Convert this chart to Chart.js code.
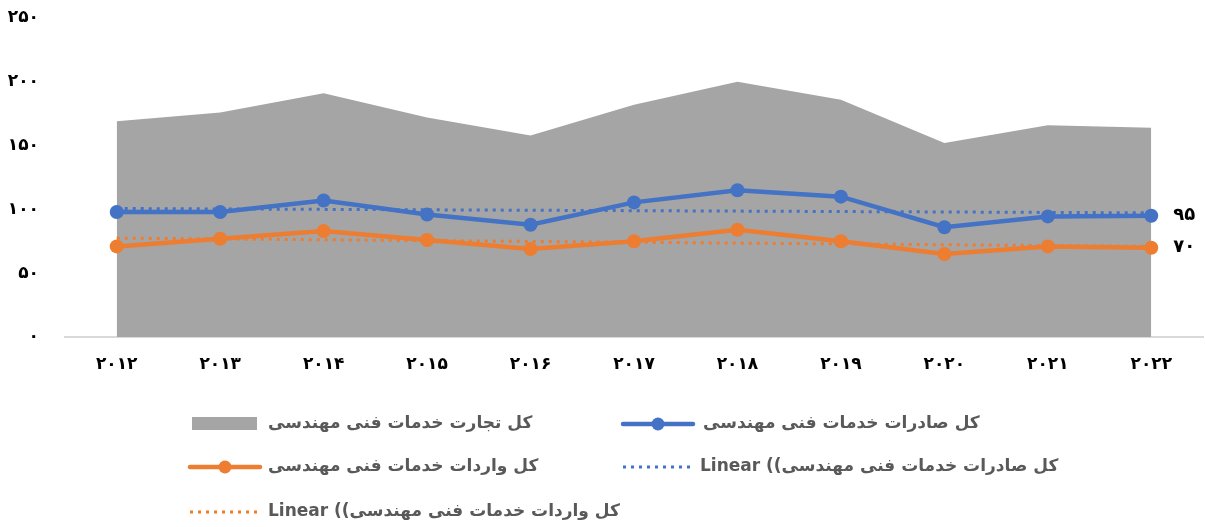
<!DOCTYPE html>
<html>
<head>
<meta charset="utf-8">
<script src="https://cdn.jsdelivr.net/npm/chart.js@4/dist/chart.umd.min.js"></script>
<style>
  html, body { margin: 0; padding: 0; background: #fff; overflow: hidden; }
  #wrap { position: relative; width: 1210px; height: 527px; }
</style>
</head>
<body>
<div id="wrap"><canvas id="chart" width="1210" height="527"></canvas></div>
<script>
const years = [2012, 2013, 2014, 2015, 2016, 2017, 2018, 2019, 2020, 2021, 2022];
const totalTrade = [169, 176, 191, 172, 158, 182, 200, 186, 152, 166, 164];
const exportsVals = [98, 98, 107, 96, 88, 105.5, 115, 110, 86, 94.5, 95];
const importsVals = [71, 77, 83, 76, 69, 75, 84, 75, 65, 71, 70];
// trendline end points
const exportsTrend = [100.7, null, null, null, null, null, null, null, null, null, 97.3];
const importsTrend = [77.5, null, null, null, null, null, null, null, null, null, 71];
const yTicks = [0, 50, 100, 150, 200, 250];

const names = {
    total: "کل تجارت خدمات فنی مهندسی",
    exp: "کل صادرات خدمات فنی مهندسی",
    imp: "کل واردات خدمات فنی مهندسی"
};

const gray = "#a5a5a5";
const blue = "#4472c4";
const orange = "#ed7d31";

function toFa(v) {
    return String(v).replace(/\d/g, d => "۰۱۲۳۴۵۶۷۸۹"[d]);
}

const FONT = "'DejaVu Sans', sans-serif";

const endLabels = {
    id: "endLabels",
    afterDatasetsDraw(chart) {
        const ctx = chart.ctx;
        ctx.save();
        ctx.font = "bold 18px " + FONT;
        ctx.fillStyle = "#000";
        ctx.textBaseline = "middle";
        ctx.textAlign = "left";
        [1, 2].forEach(i => {
            const meta = chart.getDatasetMeta(i);
            const pt = meta.data[meta.data.length - 1];
            const v = chart.data.datasets[i].data[meta.data.length - 1];
            ctx.fillText(toFa(v), pt.x + 22, pt.y);
        });
        ctx.restore();
    }
};

const legendPlugin = {
    id: "customLegend",
    afterDraw(chart) {
        const ctx = chart.ctx;
        ctx.save();
        ctx.font = "bold 17px " + FONT;
        ctx.fillStyle = "#595959";
        ctx.textBaseline = "middle";

        function lineMarker(x, y, color) {
            ctx.strokeStyle = color;
            ctx.lineWidth = 4.5;
            ctx.lineCap = "round";
            ctx.beginPath();
            ctx.moveTo(x, y);
            ctx.lineTo(x + 70, y);
            ctx.stroke();
            ctx.fillStyle = color;
            ctx.beginPath();
            ctx.arc(x + 35, y, 6.5, 0, Math.PI * 2);
            ctx.fill();
        }
        function dotMarker(x, y, color) {
            ctx.strokeStyle = color;
            ctx.lineWidth = 3;
            ctx.lineCap = "butt";
            ctx.setLineDash([3, 5]);
            ctx.beginPath();
            ctx.moveTo(x, y);
            ctx.lineTo(x + 70, y);
            ctx.stroke();
            ctx.setLineDash([]);
        }
        function rtlText(txt, x, y) {
            ctx.fillStyle = "#595959";
            ctx.direction = "rtl";
            ctx.textAlign = "left";
            ctx.fillText(txt, x, y);
            ctx.direction = "ltr";
        }
        function linearText(txt, x, y) {
            ctx.fillStyle = "#595959";
            ctx.direction = "ltr";
            ctx.textAlign = "left";
            const head = "Linear ((";
            ctx.fillText(head, x, y);
            rtlText(txt, x + ctx.measureText(head).width, y);
        }

        // row 1
        ctx.fillStyle = gray;
        ctx.fillRect(192, 417, 65, 13);
        rtlText(names.total, 268, 424);
        lineMarker(623, 424, blue);
        rtlText(names.exp, 703, 424);
        // row 2
        lineMarker(190, 467, orange);
        rtlText(names.imp, 268, 467);
        dotMarker(623, 467, blue);
        linearText(names.exp, 700, 467);
        // row 3
        dotMarker(190, 512, orange);
        linearText(names.imp, 268, 512);
        ctx.restore();
    }
};

new Chart(document.getElementById("chart"), {
    type: "line",
    data: {
        labels: years.map(toFa),
        datasets: [{
            label: names.total,
            data: totalTrade,
            fill: "origin",
            backgroundColor: gray,
            borderWidth: 0,
            pointRadius: 0,
            order: 5
        }, {
            label: names.exp,
            data: exportsVals,
            borderColor: blue,
            backgroundColor: blue,
            borderWidth: 4.5,
            pointRadius: 7,
            pointBorderWidth: 0,
            order: 3
        }, {
            label: names.imp,
            data: importsVals,
            borderColor: orange,
            backgroundColor: orange,
            borderWidth: 4.5,
            pointRadius: 7,
            pointBorderWidth: 0,
            order: 4
        }, {
            label: "Linear (" + names.exp + ")",
            data: exportsTrend,
            spanGaps: true,
            borderColor: blue,
            borderWidth: 3,
            borderDash: [3, 5],
            pointRadius: 0,
            order: 1
        }, {
            label: "Linear (" + names.imp + ")",
            data: importsTrend,
            spanGaps: true,
            borderColor: orange,
            borderWidth: 3,
            borderDash: [3, 5],
            pointRadius: 0,
            order: 2
        }]
    },
    options: {
        responsive: false,
        animation: false,
        layout: { padding: { top: 0, bottom: 150, left: 0, right: 0 } },
        elements: { line: { tension: 0 } },
        plugins: { legend: { display: false }, tooltip: { enabled: false } },
        scales: {
            x: {
                offset: true,
                grid: { display: false },
                border: { color: "#d9d9d9", width: 2 },
                ticks: { color: "#000", font: { family: FONT, size: 17, weight: "bold" }, padding: 9 },
                afterFit(scale) { scale.height = 40; }
            },
            y: {
                min: 0,
                max: 250,
                afterBuildTicks(scale) { scale.ticks = yTicks.map(v => ({ value: v })); },
                grid: { display: false },
                border: { display: false },
                ticks: {
                    color: "#000",
                    font: { family: FONT, size: 17, weight: "bold" },
                    padding: 18,
                    callback: v => toFa(v)
                },
                afterFit(scale) {
                    scale.width = 65;
                    scale.paddingTop = 18;
                    scale.paddingBottom = 0;
                }
            }
        }
    },
    plugins: [endLabels, legendPlugin]
});
</script>
</body>
</html>
